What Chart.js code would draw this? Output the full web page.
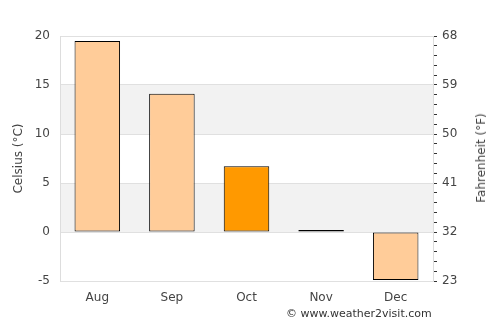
<!DOCTYPE html>
<html>
<head>
<meta charset="utf-8">
<script src="https://cdn.jsdelivr.net/npm/chart.js@4"></script>
<style>
  body { margin: 0; background: #fff; }
  #wrap { position: relative; width: 500px; height: 325px; }
  #credit { position: absolute; left: 286px; top: 307px; font: 11px "DejaVu Sans", sans-serif; color: #333; }
  #fahr { position: absolute; left: 481px; top: 158px; transform: translate(-50%, -50%) rotate(-90deg);
          white-space: nowrap; font: 12px "DejaVu Sans", sans-serif; color: #444; }
</style>
</head>
<body>
<div id="wrap">
  <canvas id="chart" width="500" height="325"></canvas>
  <div id="fahr">Fahrenheit (°F)</div>
  <div id="credit">© www.weather2visit.com</div>
</div>
<script>
// Monthly average temperature
const months = ['Aug', 'Sep', 'Oct', 'Nov', 'Dec'];
const celsius = [19.5, 14.1, 6.7, 0.2, -4.9];
const barColors = ['#ffcc99', '#ffcc99', '#ff9900', '#ffcc99', '#ffcc99'];
const shadedBands = [[0, 5], [10, 15]];
const yMin = -5, yMax = 20;

const fontStyle = { family: 'DejaVu Sans', size: 12 };

// grey bands behind the bars
const bandPlugin = {
    id: 'bands',
    beforeDraw(chart) {
        const ctx = chart.ctx;
        const area = chart.chartArea;
        const y = chart.scales.y;
        ctx.save();
        ctx.fillStyle = '#f2f2f2';
        shadedBands.forEach(band => {
            const top = y.getPixelForValue(band[1]);
            const bottom = y.getPixelForValue(band[0]);
            ctx.fillRect(area.left, top, area.right - area.left, bottom - top);
        });
        ctx.restore();
    }
};

new Chart(document.getElementById('chart').getContext('2d'), {
    type: 'bar',
    data: {
        labels: months,
        datasets: [{
            data: celsius,
            backgroundColor: barColors,
            borderColor: '#000',
            borderWidth: 1,
            borderSkipped: false,
            barPercentage: 0.61,
            categoryPercentage: 1
        }]
    },
    options: {
        responsive: false,
        animation: false,
        layout: { padding: { top: 36, left: 0, right: 0, bottom: 0 } },
        plugins: {
            legend: { display: false },
            tooltip: { enabled: false }
        },
        scales: {
            x: {
                grid: { display: false },
                border: { display: false },
                ticks: { color: '#444', font: fontStyle, padding: 2 },
                afterFit(scale) { scale.height = 44; }
            },
            y: {
                position: 'left',
                min: yMin,
                max: yMax,
                ticks: { stepSize: 5, color: '#444', font: fontStyle, padding: 10 },
                grid: { color: '#e0e0e0', drawTicks: false },
                border: { color: '#dddddd' },
                title: { display: true, text: 'Celsius (°C)', color: '#444', font: fontStyle, padding: { top: 12, bottom: 0 } },
                afterFit(scale) { scale.width = 60; }
            },
            y2: {
                position: 'right',
                min: yMin,
                max: yMax,
                ticks: {
                    stepSize: 1,
                    autoSkip: false,
                    color: '#444',
                    font: fontStyle,
                    padding: 5,
                    callback: v => (v % 5 === 0 ? String(Math.round(v * 9 / 5 + 32)) : '')
                },
                grid: { drawOnChartArea: false, tickColor: '#333', tickLength: 4 },
                border: { color: '#dddddd' },
                afterFit(scale) { scale.width = 67; }
            }
        }
    },
    plugins: [bandPlugin]
});
</script>
</body>
</html>
